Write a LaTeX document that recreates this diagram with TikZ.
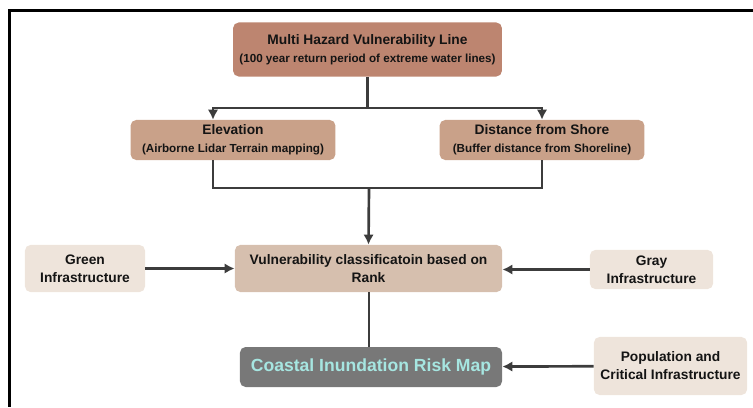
\documentclass[tikz,border=0pt]{standalone}
\usepackage{fontspec}
\setmainfont{Liberation Sans}
\usetikzlibrary{arrows.meta,positioning,calc}
\definecolor{hzd}{HTML}{BD8570}
\definecolor{crit}{HTML}{C9A189}
\definecolor{rank}{HTML}{D6BFAE}
\definecolor{infra}{HTML}{EEE4DB}
\definecolor{risk}{HTML}{787878}
\definecolor{aqua}{HTML}{A6E6E1}
\definecolor{ink}{HTML}{3C3C3C}
\tikzset{b/.style={rounded corners=4pt,align=center,inner sep=0pt,text=black!92,font=\bfseries\fontsize{9.8}{12.8}\selectfont},
 h/.style={b,fill=hzd,minimum width=6.72cm,minimum height=1.35cm},
 c/.style={b,fill=crit,minimum width=5.12cm,minimum height=1cm},
 v/.style={b,fill=rank,minimum width=6.68cm,minimum height=1.18cm},
 i/.style={b,fill=infra},
 flow/.style={-{Latex[length=2.5mm,width=2.6mm]},ink,line width=1.9pt},wire/.style={ink,line width=1.9pt}}
\newcommand{\subtxt}[1]{{\fontsize{8.3}{11}\selectfont #1}}
\begin{document}
\begin{tikzpicture}[x=0.025cm,y=-0.025cm]
\useasboundingbox (0,0) rectangle (753,407);
\draw[line width=1.6pt] (753,10.5) -- (9.5,10.5) -- (9.5,407);
\node[h](top) at (367.5,49.5){Multi Hazard Vulnerability Line\\\subtxt{(100 year return period of extreme water lines)}};
\node[c](elev) at (233,140){Elevation\\\subtxt{(Airborne Lidar Terrain mapping)}};
\node[c](dist) at (542,140){Distance from Shore\\\subtxt{(Buffer distance from Shoreline)}};
\node[v](vul) at (368.5,268.5){Vulnerability classificatoin based on\\Rank};
\node[i,minimum width=3cm,minimum height=1.18cm](green) at (85,268.5){Green\\Infrastructure};
\node[i,minimum width=3.08cm,minimum height=.98cm](gray) at (651.5,269.5){Gray\\Infrastructure};
\node[b,fill=risk,text=aqua,minimum width=6.55cm,minimum height=1cm,font=\bfseries\fontsize{12.5}{15}\selectfont](map) at (371,367){Coastal Inundation Risk Map};
\node[i,minimum width=3.83cm,minimum height=1.45cm](pop) at (670.5,366){Population and\\Critical Infrastructure};
\coordinate (j1) at (367.5,108);\coordinate (j2) at (369,188);
\draw[wire](top.south)--(j1);
\draw[flow](j1)-|([xshift=-.5cm]elev.north);
\draw[flow](j1)-|(dist.north);
\draw[wire]([xshift=-.5cm]elev.south)|-(j2)-|(dist.south);
\draw[flow](j2)--(vul.north);
\draw[flow](green)--(vul);
\draw[flow](gray)--(vul.east|-gray.west);
\draw[wire](vul.south-|j2)--(map.north-|j2);
\draw[flow](pop)--(map);
\end{tikzpicture}
\end{document}
